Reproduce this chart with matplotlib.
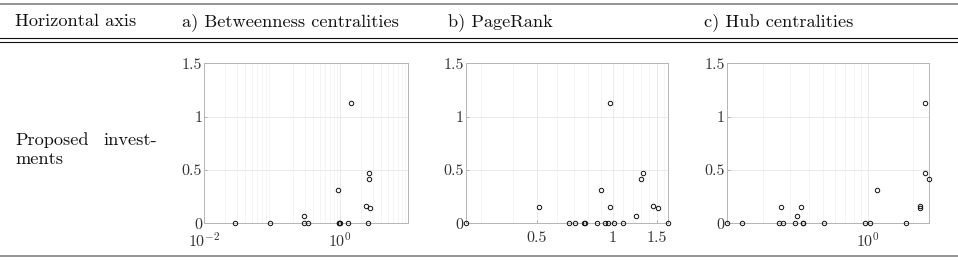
import numpy as np
import matplotlib
matplotlib.use("Agg")
import matplotlib.pyplot as plt
from matplotlib.lines import Line2D
from matplotlib.ticker import FixedLocator, FixedFormatter, LogLocator, NullFormatter

plt.rcParams['mathtext.fontset'] = 'cm'
plt.rcParams['font.family'] = ['cmr10', 'DejaVu Serif']
plt.rcParams['axes.formatter.use_mathtext'] = True

# ---- data ----
header_labels = ["Horizontal axis", "a) Betweenness centralities", "b) PageRank", "c) Hub centralities"]
row_label_1 = "Proposed"
row_label_2 = "invest-"
row_label_3 = "ments"

bet_x = [0.028, 0.091, 0.29, 0.29, 0.335, 0.92, 0.96, 0.97, 1.0, 1.32, 1.43, 2.4, 2.57, 2.63, 2.63, 2.69]
bet_y = [0, 0, 0.07, 0, 0, 0.31, 0, 0, 0, 0, 1.13, 0.16, 0, 0.47, 0.42, 0.14]

pr_x = [0.26, 0.51, 0.67, 0.71, 0.77, 0.775, 0.866, 0.90, 0.93, 0.96, 0.975, 0.98, 1.01, 1.10, 1.24, 1.30, 1.32, 1.45, 1.52, 1.66]
pr_y = [0, 0.15, 0, 0, 0, 0, 0, 0.31, 0, 0, 1.13, 0.15, 0, 0, 0.07, 0.42, 0.47, 0.16, 0.14, 0]

hub_x = [0.115, 0.145, 0.254, 0.262, 0.271, 0.323, 0.336, 0.357, 0.365, 0.367, 0.509, 0.95, 1.03, 1.14, 1.78, 2.2, 2.22, 2.39, 2.37, 2.55]
hub_y = [0, 0, 0, 0.15, 0, 0, 0.07, 0.15, 0, 0, 0, 0, 0, 0.31, 0, 0.14, 0.16, 1.13, 0.47, 0.42]

y_ticks = [0, 0.5, 1, 1.5]
y_ticklabels = ["0", "0.5", "1", "1.5"]
bet_xticks = [1e-2, 1e0]
bet_xticklabels = [r"$10^{-2}$", r"$10^{0}$"]
pr_xticks = [0.5, 1, 1.5]
pr_xticklabels = ["0.5", "1", "1.5"]
pr_minor = [0.3, 0.4, 0.6, 0.7, 0.8, 0.9, 1.1, 1.2, 1.3, 1.4, 1.6]
hub_xticks = [1e0]
hub_xticklabels = [r"$10^{0}$"]

W, H = 958, 261
fig = plt.figure(figsize=(W / 100, H / 100), dpi=100)

def fx(px):
    return px / W

def fy(py):
    return 1 - py / H

# table rules
fig.add_artist(Line2D([0, 1], [fy(3.5), fy(3.5)], color="#8a8a8a", lw=1.3))
fig.add_artist(Line2D([0, 1], [fy(37.5), fy(37.5)], color="#111111", lw=0.8))
fig.add_artist(Line2D([0, 1], [fy(41.5), fy(41.5)], color="#111111", lw=0.8))
fig.add_artist(Line2D([0, 1], [fy(256), fy(256)], color="#8a8a8a", lw=1.3))

# header
hx = [15, 182, 448, 704]
for x, t in zip(hx, header_labels):
    fig.text(fx(x), fy(26.5), t, fontsize=13.2, ha="left", va="baseline", color="#111111")

fig.text(fx(15), fy(145), row_label_1, fontsize=13.2, ha="left", va="baseline", color="#111111")
fig.text(fx(157), fy(145), row_label_2, fontsize=13.2, ha="right", va="baseline", color="#111111")
fig.text(fx(15), fy(164), row_label_3, fontsize=13.2, ha="left", va="baseline", color="#111111")

top, bot = 63.3, 223.3
panels = [
    (204.3, 408.3, bet_x, bet_y, (1e-2, 1e1), bet_xticks, bet_xticklabels, None),
    (465.7, 668.0, pr_x, pr_y, (0.26, 1.66), pr_xticks, pr_xticklabels, pr_minor),
    (726.7, 929.3, hub_x, hub_y, (0.114, 2.55), hub_xticks, hub_xticklabels, None),
]

for (l, r, xs, ys, xlim, xt, xtl, minor) in panels:
    ax = fig.add_axes([fx(l), fy(bot), (r - l) / W, (bot - top) / H])
    ax.set_xscale("log")
    ax.set_xlim(*xlim)
    ax.set_ylim(0, 1.5)
    ax.xaxis.set_major_locator(FixedLocator(xt))
    ax.xaxis.set_major_formatter(FixedFormatter(xtl))
    if minor is not None:
        ax.xaxis.set_minor_locator(FixedLocator(minor))
    else:
        ax.xaxis.set_minor_locator(LogLocator(base=10, subs=np.arange(2, 10), numticks=20))
    ax.xaxis.set_minor_formatter(NullFormatter())
    ax.yaxis.set_major_locator(FixedLocator(y_ticks))
    ax.yaxis.set_major_formatter(FixedFormatter(y_ticklabels))
    ax.grid(True, which="major", color="#e6e6e6", lw=0.6)
    ax.grid(True, which="minor", axis="x", color="#f0f0f0", lw=0.5)
    ax.set_axisbelow(True)
    for s in ax.spines.values():
        s.set_color("#b5b5b5")
        s.set_linewidth(0.7)
    ax.tick_params(which="both", direction="in", length=2, color="#999999", width=0.5,
                   labelsize=11.5, labelcolor="#333333")
    ax.tick_params(axis="y", pad=1.5)
    ax.tick_params(axis="x", pad=6)
    ax.tick_params(which="minor", length=0)
    ax.plot(xs, ys, linestyle="none", marker="o", markersize=3.2, markerfacecolor="none",
            markeredgecolor="#111111", markeredgewidth=0.7, clip_on=False, zorder=3)

fig.savefig("out.png", dpi=100)
